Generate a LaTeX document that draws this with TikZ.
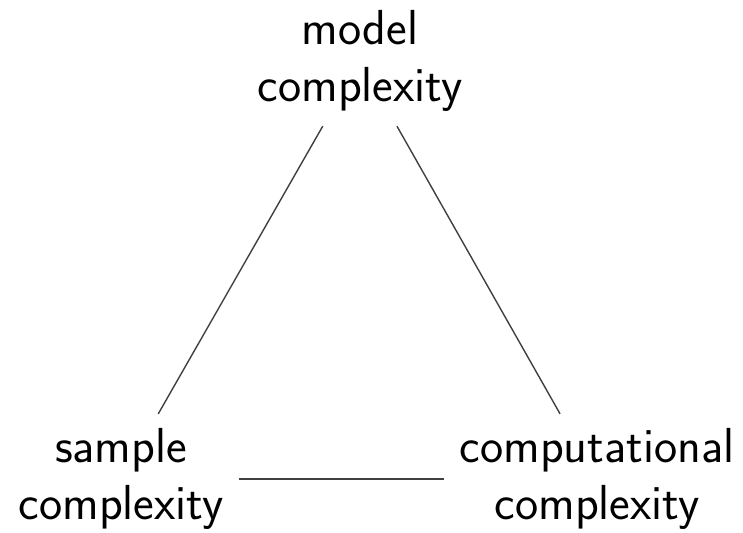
\documentclass[tikz,border=0pt]{standalone}
\usetikzlibrary{positioning}

\begin{document}
\begin{tikzpicture}[x=0.5pt, y=-0.5pt,
  lbl/.style={align=center, font=\sffamily\fontsize{24.6}{28.5}\selectfont, inner xsep=7.5pt, inner ysep=9pt},
  edge/.style={draw=black!75, line width=0.7pt}]
\useasboundingbox (0,0) rectangle (743,532);
\node[lbl] (model) at (360,61) {model\\complexity};
\node[lbl] (sample) at (121,479) {sample\\complexity};
\node[lbl] (comput) at (597,479) {computational\\complexity};
\draw[edge, shorten <=37.5pt, shorten >=37.5pt] (model.center) -- (sample.center);
\draw[edge, shorten <=37.5pt, shorten >=37.5pt] (model.center) -- (comput.center);
\draw[edge] (sample.east) -- (comput.west);
\end{tikzpicture}
\end{document}
